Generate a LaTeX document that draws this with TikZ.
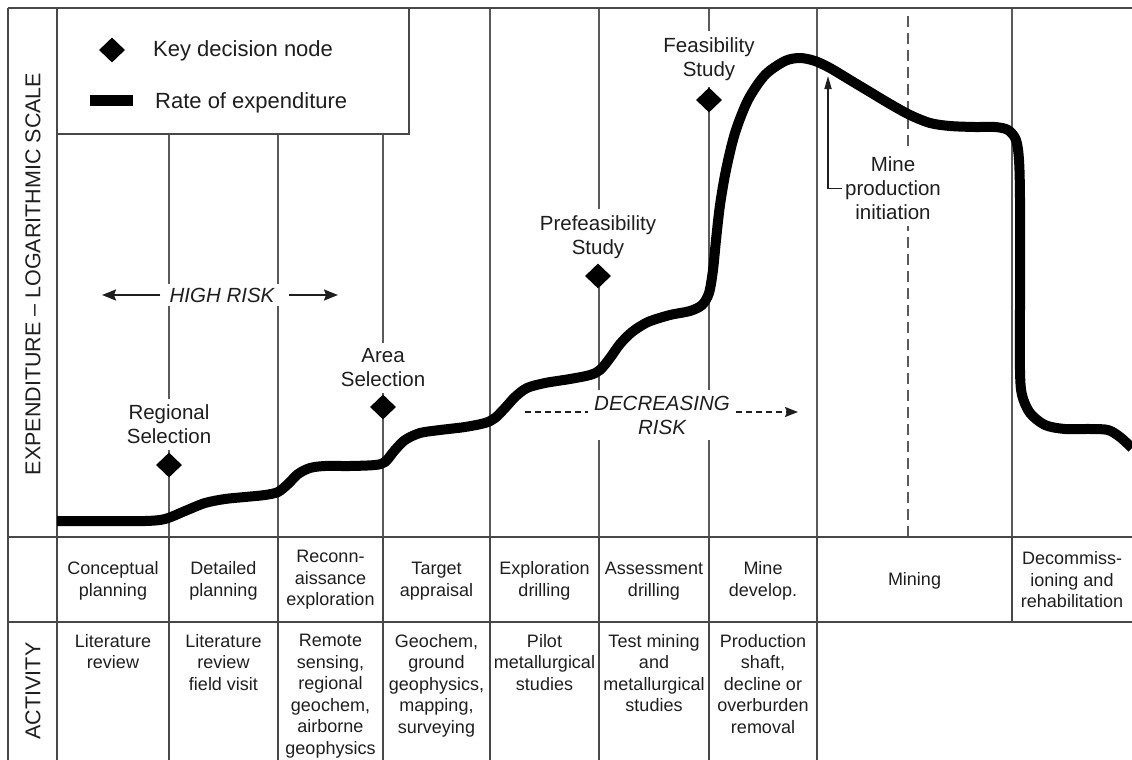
\documentclass[tikz,border=0pt]{standalone}
\usepackage{fontspec}
\setmainfont{Liberation Sans}
\usetikzlibrary{arrows.meta,shapes.geometric}
\definecolor{ink}{HTML}{1E1E1E}
\definecolor{rulec}{HTML}{484848}
\definecolor{thinc}{HTML}{5A5A5A}
\tikzset{
  frame/.style={draw=rulec, line width=2.2pt},
  gridl/.style={draw=thinc, line width=1.6pt},
  lbl/.style={font=\fontsize{20.5}{24}\selectfont, text=ink, align=center, fill=white, inner xsep=3pt, inner ysep=6pt},
  risk/.style={font=\fontsize{20.5}{24}\selectfont\itshape, text=ink, align=center, fill=white, inner xsep=6pt, inner ysep=4pt},
  phase/.style={font=\fontsize{18}{21.5}\selectfont, text=ink, align=center, inner sep=0pt},
  act/.style={font=\fontsize{18}{21.5}\selectfont, text=ink, align=center, inner sep=0pt, anchor=north},
  legtext/.style={font=\fontsize{22}{26}\selectfont, text=ink, inner sep=0pt, anchor=base west},
  axistext/.style={font=\fontsize{21.5}{26}\selectfont, text=ink, rotate=90, inner sep=0pt},
  dnode/.style={diamond, fill=black, minimum width=26pt, minimum height=25pt, inner sep=0pt},
  curve/.style={line width=10pt, line cap=butt, line join=round, draw=black},
  solidarrow/.style={draw=ink, line width=2pt, -{Stealth[length=14pt, width=11pt, inset=2pt]}},
  riskdash/.style={draw=ink, line width=1.6pt, dash pattern=on 6pt off 4pt},
}
\begin{document}
\begin{tikzpicture}[x=1pt,y=-1pt]
\useasboundingbox (0,0) rectangle (1132,760);
% plot grid lines
\foreach \gx in {169,278,383} \draw[gridl] (\gx,134) -- (\gx,537);
\foreach \gx in {490,599,709,817,1012} \draw[gridl] (\gx,8) -- (\gx,537);
\draw[gridl, dash pattern=on 11pt off 6pt] (908,16) -- (908,537);
% frame and table rules
\draw[frame] (8,8) -- (1132,8);
\draw[frame] (8,8) -- (8,760);
\draw[frame] (57,8) -- (57,760);
\draw[frame] (8,537) -- (1132,537);
\draw[frame] (8,622) -- (1132,622);
\foreach \gx in {169,278,383,490,599,709,817} \draw[frame] (\gx,537) -- (\gx,760);
\draw[frame] (1012,537) -- (1012,622);
% legend
\draw[frame, fill=white] (57,8) rectangle (409,134);
\node[dnode] (legd) at (112,50) {};
\node[legtext] (legk) at (153,57) {Key decision node};
\coordinate (barL) at (90,100.5);
\coordinate (barR) at (133,100.5);
\draw[line width=11pt, draw=black] (barL) -- (barR);
\node[legtext] (legr) at (155,108) {Rate of expenditure};
% axis labels
\node[axistext] (yax) at (33,274) {EXPENDITURE – LOGARITHMIC SCALE};
\node[axistext] (actl) at (33,691) {ACTIVITY};
% decision labels
\node[lbl] (lreg) at (169,424.5) {Regional\\Selection};
\node[lbl] (larea) at (383,368) {Area\\Selection};
\node[lbl] (lpre) at (598,237) {Prefeasibility\\Study};
\node[lbl] (lfeas) at (709,59) {Feasibility\\Study};
\node[lbl, inner xsep=3pt] (mp) at (893,188.5) {Mine\\production\\initiation};
% diamonds
\node[dnode] (dreg) at (169,465) {};
\node[dnode] (darea) at (383,407) {};
\node[dnode] (dpre) at (598,276) {};
\node[dnode] (dfeas) at (709,100) {};
% risk labels
\node[risk] (hr) at (222,295) {HIGH RISK};
\coordinate (hrL) at (102,295);
\coordinate (hrR) at (338,295);
\draw[solidarrow] ([xshift=-3pt]hr.west) -- (hrL);
\draw[solidarrow] ([xshift=8pt]hr.east) -- (hrR);
\node[risk, inner ysep=6pt] (dr) at (662,415) {DECREASING\\RISK};
\coordinate (drL) at (525,412);
\coordinate (drR) at (798,412);
\draw[riskdash] (drL) -- (dr.west |- drL);
\draw[riskdash, -{Stealth[length=13pt, width=10pt, inset=2pt]}] (dr.east |- drL) -- (drR);
% rate of expenditure curve
\draw[curve] plot[smooth, tension=0.5] coordinates {
 (57,521) (100,521) (145,521) (165,519) (185,511) (205,503) (225,499) (245,497)
 (265,495) (278,492) (288,484) (298,474) (310,468) (325,466) (350,466) (375,465)
 (385,462) (395,450) (405,440) (420,433) (440,430) (465,427) (485,423) (495,418)
 (505,408) (515,397) (527,388) (545,383) (570,379) (590,375) (600,370) (610,358)
 (620,344) (632,332) (648,322) (670,315) (690,311) (702,305) (709,293) (713,270)
 (716,240) (720,205) (726,170) (735,133) (748,100) (765,75) (785,61) (800,58)
 (815,61) (830,68) (850,80) (870,92) (890,104) (910,115) (930,123) (950,126)
 (975,127) (995,127) (1008,130) (1016,140) (1019,160) (1020,200) (1020,300)
 (1020,370) (1022,395) (1030,413) (1045,425) (1065,429) (1090,429) (1108,430)
 (1120,437) (1132,448)};
% mine production arrow
\coordinate (mpTip) at (828,76);
\draw[draw=ink, line width=1.6pt, -{Triangle[length=13pt, width=7pt]}] (mp.west) -| (mpTip);
% phase row
\node[phase] (p1) at (113,581) {Conceptual\\planning};
\node[phase] (p2) at (223.5,581) {Detailed\\planning};
\node[phase] (p3) at (330.5,580) {Reconn-\\aissance\\exploration};
\node[phase] (p4) at (436.5,581) {Target\\appraisal};
\node[phase] (p5) at (544.5,581) {Exploration\\drilling};
\node[phase] (p6) at (654,581) {Assessment\\drilling};
\node[phase] (p7) at (763,581) {Mine\\develop.};
\node[phase] (p8) at (914.5,581) {Mining};
\node[phase] (p9) at (1072,580) {Decommiss-\\ioning and\\rehabilitation};
% activity row
\node[act] (a1) at (113,634) {Literature\\review};
\node[act] (a2) at (223.5,634) {Literature\\review\\field visit};
\node[act] (a3) at (330.5,634) {Remote\\sensing,\\regional\\geochem,\\airborne\\geophysics};
\node[act] (a4) at (436.5,634) {Geochem,\\ground\\geophysics,\\mapping,\\surveying};
\node[act] (a5) at (544.5,634) {Pilot\\metallurgical\\studies};
\node[act] (a6) at (654,634) {Test mining\\and\\metallurgical\\studies};
\node[act] (a7) at (763,634) {Production\\shaft,\\decline or\\overburden\\removal};
\end{tikzpicture}
\end{document}
